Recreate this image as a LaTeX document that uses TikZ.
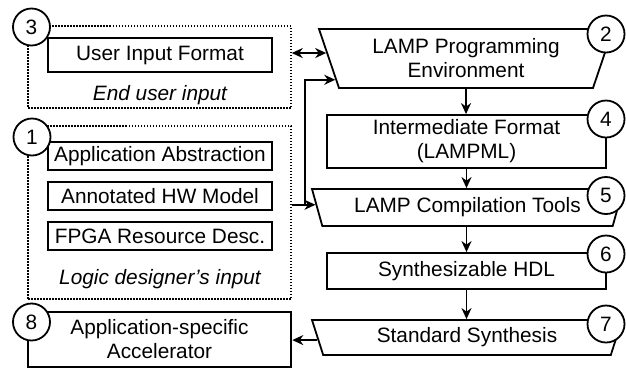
\documentclass[tikz,border=0pt]{standalone}
\usepackage{fontspec}
\setmainfont{Liberation Sans}
\usetikzlibrary{arrows.meta,shapes.geometric,calc}

\begin{document}
\begin{tikzpicture}[
  x=1pt,y=-1pt,
  every node/.style={font=\fontsize{20.8}{24}\selectfont},
  box/.style={draw,line width=1.8pt,inner sep=0pt,align=center},
  tool/.style={draw,line width=1.8pt,trapezium,trapezium left angle=118,
               trapezium right angle=118,trapezium stretches body,
               inner sep=0pt,align=center},
  group/.style={draw,line width=1.5pt,dash pattern=on 1.5pt off 1.5pt,inner sep=0pt},
  note/.style={font=\fontsize{20.8}{24}\selectfont\itshape},
  num/.style={draw,circle,fill=white,line width=1.8pt,minimum size=37pt,inner sep=0pt},
  arr/.style={-{Stealth[length=11pt,width=10pt,inset=3.5pt]},line width=1.8pt},
  dblarr/.style={{Stealth[length=11pt,width=10pt,inset=3.5pt]}-{Stealth[length=11pt,width=10pt,inset=3.5pt]},line width=1.8pt}
]
\useasboundingbox (0,0) rectangle (626,368);

\node[group,minimum width=263pt,minimum height=82pt] (userin) at (159.5,67) {};
\node[group,minimum width=263pt,minimum height=173pt] (designin) at (159.5,212.5) {};
\node[box,minimum width=224pt,minimum height=34pt] (uif) at (160,55) {User Input Format};
\node[note] (enduser) at (160,95) {End user input};
\node[box,minimum width=224pt,minimum height=28pt] (appabs) at (160,156) {Application Abstraction};
\node[box,minimum width=224pt,minimum height=28pt] (hwmodel) at (160,196) {Annotated HW Model};
\node[box,minimum width=224pt,minimum height=28pt] (fpgares) at (160,236) {FPGA Resource Desc.};
\node[note] (designer) at (160,279) {Logic designer's input};
\node[box,line width=2.6pt,minimum width=263pt,minimum height=55pt] (acc) at (159.5,339.5) {Application-specific\\Accelerator};

\node[tool,trapezium left angle=117,trapezium right angle=117,
      minimum width=294pt,minimum height=59pt] (lampenv) at (466,58.5) {LAMP Programming\\Environment};
\node[box,minimum width=279pt,minimum height=53pt] (lampml) at (466.5,141.5) {Intermediate Format\\(LAMPML)};
\node[tool,minimum width=311pt,minimum height=37pt] (comp) at (467.5,207.5) {LAMP Compilation Tools};
\node[box,minimum width=279pt,minimum height=36pt] (hdl) at (466.5,271) {Synthesizable HDL};
\node[tool,trapezium left angle=120,trapezium right angle=120,
      minimum width=310pt,minimum height=35pt] (synth) at (467,337.5) {Standard Synthesis};

\coordinate (envin1) at ($(lampenv.top left corner)!0.41!(lampenv.bottom left corner)$);
\coordinate (envin2) at ($(lampenv.top left corner)!0.85!(lampenv.bottom left corner)$);
\coordinate (compin) at ($(comp.top left corner)!0.43!(comp.bottom left corner)$);
\coordinate (synthout) at ($(synth.top left corner)!0.57!(synth.bottom left corner)$);

\draw[dblarr] (userin.east |- envin1) -- (envin1);
\draw[arr] (designin.east |- compin) -- (compin);
\draw[arr] (designin.east |- compin) -- ++(13,0) |- (envin2);
\draw[arr] (lampenv.south) -- (lampenv.south |- lampml.north);
\draw[arr] (lampml.south) -- (lampml.south |- comp.north);
\draw[arr] (comp.south -| lampml.south) -- (lampml.south |- hdl.north);
\draw[arr] (hdl.south) -- (hdl.south |- synth.north);
\draw[arr] (synthout) -- (synthout -| acc.east);

\node[num] (n3) at (31.5,27) {3};
\node[num] (n1) at (32,137) {1};
\node[num] (n8) at (31.5,322) {8};
\node[num] (n2) at (606,34) {2};
\node[num] (n4) at (606,119) {4};
\node[num] (n5) at (606,195.5) {5};
\node[num] (n6) at (606,254) {6};
\node[num] (n7) at (606,324) {7};
\end{tikzpicture}
\end{document}
